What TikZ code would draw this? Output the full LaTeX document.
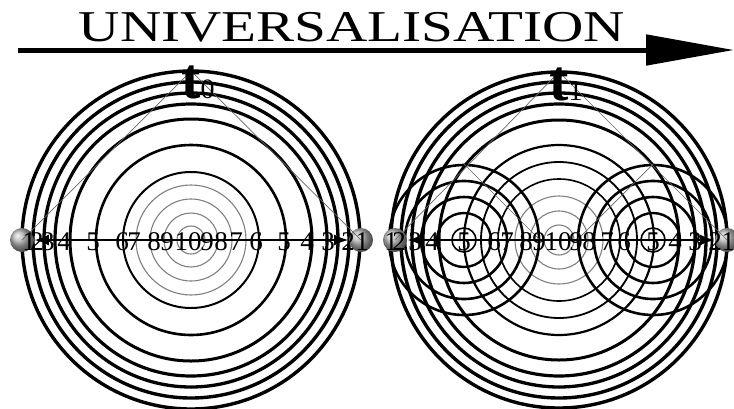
\documentclass[tikz,border=0pt]{standalone}
\usepackage{fontspec}
\setmainfont{Liberation Serif}
\usepackage{graphicx}
\usetikzlibrary{arrows.meta}

\begin{document}
\begin{tikzpicture}[
    x=1pt, y=-1pt,
    ring/.style={draw=black, line width=3.2pt},
    faintring/.style={draw=black!50, line width=1.1pt},
    sphere/.style={circle, minimum size=24pt, inner sep=0pt, shade, ball color=gray!60},
    num/.style={font=\fontsize{27}{27}\selectfont, inner sep=0pt, anchor=base},
    guide/.style={draw=black!60, line width=0.7pt},
    >=Latex
]
    \useasboundingbox (0,0) rectangle (734,408);

    % title arrow
    \coordinate (arrS) at (18,50);
    \coordinate (arrE) at (734,50);
    \draw[line width=5pt, -{Triangle[length=88pt, width=30pt]}] (arrS) -- (arrE);
    \node (title) at (352,27.5) {\scalebox{1.3}[1]{\fontsize{44}{44}\selectfont UNIVERSALISATION}};

    % t0: single source
    \coordinate (cL) at (191,240);
    \foreach \r/\w in {169/3.4, 158/3.4, 147/3.3, 136/3.2, 121/3.0, 95/2.6, 68/2.0}
        \draw[ring, line width=\w pt] (cL) circle[radius=\r];
    \foreach \r in {55, 41, 27, 14}
        \draw[faintring] (cL) circle[radius=\r];
    \node[sphere] (lA) at (22,240) {};
    \node[sphere] (lB) at (361,240) {};
    \coordinate (topL) at (191,71);
    \draw[guide] (lA.center) -- (topL) -- (lB.center);
    \draw[<->, line width=2.6pt] (lA) -- (lB);
    \foreach \n/\x [count=\i] in {1/29, 2/37, 3/48, 4/64, 5/93, 6/122, 7/134, 8/154, 9/167, 10/188,
                                  9/207, 8/221, 7/236, 6/256, 5/284, 4/307, 3/328, 2/348, 1/362}
        \node[num] (l\i) at (\x,250) {\n};
    \node[anchor=base west, inner sep=0pt] (t0) at (181,98)
        {\fontsize{58}{58}\selectfont\bfseries t\fontsize{28}{28}\selectfont\mdseries 0};

    % t1: two secondary sources
    \coordinate (cR) at (559,240);
    \coordinate (sA) at (464,240);
    \coordinate (sB) at (653,240);
    \foreach \r/\w in {168/3.4, 158/3.4, 147/3.3, 136/3.2, 120/3.0, 95/2.2, 78/1.8, 61/1.6}
        \draw[ring, line width=\w pt] (cR) circle[radius=\r];
    \foreach \r in {44, 29, 15}
        \draw[faintring] (cR) circle[radius=\r];
    \foreach \r/\w in {12/1.6, 27/2.4, 43/2.6, 59/2.6, 75/2.6}{
        \draw[ring, line width=\w pt] (sA) circle[radius=\r];
        \draw[ring, line width=\w pt] (sB) circle[radius=\r];
    }
    \node[sphere] (rA) at (395,240) {};
    \node[sphere] (rB) at (727,240) {};
    \coordinate (topR) at (559,72);
    \coordinate (topA) at (464,164);
    \coordinate (topB) at (653,164);
    \coordinate (footA) at (540,240);
    \coordinate (footB) at (577,240);
    \draw[guide] (rA.center) -- (topR) -- (rB.center);
    \draw[guide] (topA) -- (footA);
    \draw[guide] (topB) -- (footB);
    \draw[<->, line width=2.6pt] (rA) -- (rB);
    \foreach \n/\x [count=\i] in {1/391, 2/399, 3/415, 4/432, 5/464, 6/494, 7/507, 8/526, 9/539, 10/558,
                                  9/576, 8/589, 7/607, 6/624, 5/653, 4/675, 3/695, 2/715, 1/728}
        \node[num] (r\i) at (\x,250) {\n};
    \node[anchor=base west, inner sep=0pt] (t1) at (549,100)
        {\fontsize{58}{58}\selectfont\bfseries t\fontsize{28}{28}\selectfont\mdseries 1};
\end{tikzpicture}
\end{document}
